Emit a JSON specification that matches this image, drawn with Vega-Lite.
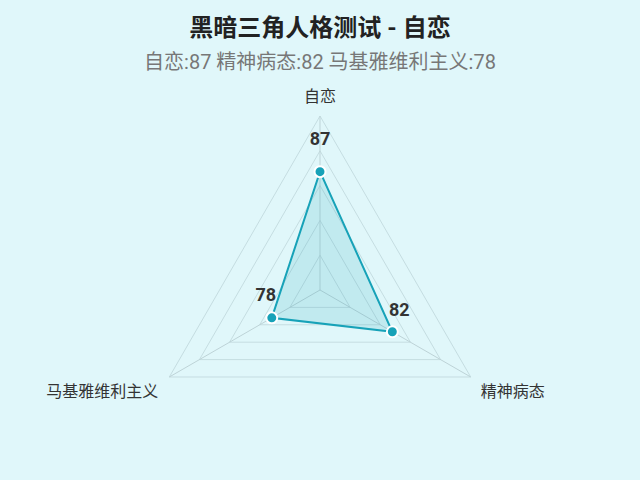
{
  "$schema": "https://vega.github.io/schema/vega-lite/v6.json",
  "width": 640,
  "height": 400,
  "autosize": {"type": "none"},
  "padding": {"top": 80, "left": 0, "right": 0, "bottom": 0},
  "background": "#e0f7fa",
  "config": {"view": {"stroke": null}, "font": "Roboto, Noto Sans CJK SC"},
  "title": {
    "text": "黑暗三角人格测试 - 自恋",
    "subtitle": "自恋:87 精神病态:82 马基雅维利主义:78",
    "anchor": "middle",
    "font": "Roboto, Noto Sans CJK SC",
    "fontSize": 24,
    "fontWeight": "bold",
    "color": "#222222",
    "subtitleFont": "Roboto, Noto Sans CJK SC",
    "subtitleFontSize": 20,
    "subtitleColor": "#777777",
    "subtitlePadding": 12,
    "offset": 7
  },
  "datasets": {
    "scores": [
      {"axis": "自恋", "order": 0, "value": 87},
      {"axis": "精神病态", "order": 1, "value": 82},
      {"axis": "马基雅维利主义", "order": 2, "value": 78}
    ],
    "grid": [
      {"level": 75, "order": 0}, {"level": 75, "order": 1}, {"level": 75, "order": 2},
      {"level": 80, "order": 0}, {"level": 80, "order": 1}, {"level": 80, "order": 2},
      {"level": 85, "order": 0}, {"level": 85, "order": 1}, {"level": 85, "order": 2},
      {"level": 90, "order": 0}, {"level": 90, "order": 1}, {"level": 90, "order": 2},
      {"level": 95, "order": 0}, {"level": 95, "order": 1}, {"level": 95, "order": 2}
    ]
  },
  "encoding": {
    "x": {"field": "px", "type": "quantitative", "scale": {"domain": [-1.8391, 1.8391], "nice": false, "zero": false}, "axis": null},
    "y": {"field": "py", "type": "quantitative", "scale": {"domain": [-1.092, 1.2069], "nice": false, "zero": false}, "axis": null}
  },
  "layer": [
    {
      "data": {"name": "grid"},
      "transform": [
        {"calculate": "(datum.level - 70) / 25", "as": "r"},
        {"calculate": "datum.order * 2 * PI / 3", "as": "a"},
        {"calculate": "datum.r * sin(datum.a)", "as": "px"},
        {"calculate": "datum.r * cos(datum.a)", "as": "py"}
      ],
      "mark": {"type": "line", "interpolate": "linear-closed", "stroke": "#c5dde1", "strokeWidth": 1},
      "encoding": {
        "detail": {"field": "level", "type": "nominal"},
        "order": {"field": "order", "type": "quantitative"}
      }
    },
    {
      "data": {"name": "scores"},
      "transform": [
        {"calculate": "datum.order * 2 * PI / 3", "as": "a"},
        {"calculate": "sin(datum.a)", "as": "px"},
        {"calculate": "cos(datum.a)", "as": "py"}
      ],
      "mark": {"type": "rule", "stroke": "#bdd3d7", "strokeWidth": 1},
      "encoding": {
        "x2": {"datum": 0},
        "y2": {"datum": 0}
      }
    },
    {
      "data": {"name": "scores"},
      "transform": [
        {"calculate": "(datum.value - 70) / 25", "as": "r"},
        {"calculate": "datum.order * 2 * PI / 3", "as": "a"},
        {"calculate": "datum.r * sin(datum.a)", "as": "px"},
        {"calculate": "datum.r * cos(datum.a)", "as": "py"}
      ],
      "mark": {"type": "line", "interpolate": "linear-closed", "stroke": "#17a2b8", "strokeWidth": 2, "fill": "#17a2b8", "fillOpacity": 0.15},
      "encoding": {
        "order": {"field": "order", "type": "quantitative"}
      }
    },
    {
      "data": {"name": "scores"},
      "transform": [
        {"calculate": "(datum.value - 70) / 25", "as": "r"},
        {"calculate": "datum.order * 2 * PI / 3", "as": "a"},
        {"calculate": "datum.r * sin(datum.a)", "as": "px"},
        {"calculate": "datum.r * cos(datum.a)", "as": "py"}
      ],
      "mark": {"type": "point", "filled": true, "fill": "#17a2b8", "stroke": "#ffffff", "strokeWidth": 2, "strokeOpacity": 1, "opacity": 1, "size": 120}
    },
    {
      "data": {"name": "scores"},
      "transform": [
        {"calculate": "(datum.value - 70) / 25", "as": "r"},
        {"calculate": "datum.order * 2 * PI / 3", "as": "a"},
        {"calculate": "datum.r * sin(datum.a)", "as": "px"},
        {"calculate": "datum.r * cos(datum.a)", "as": "py"},
        {"filter": "datum.order == 0"}
      ],
      "mark": {"type": "text", "fontSize": 18, "fontWeight": "bold", "color": "#333333", "baseline": "middle", "dy": -32},
      "encoding": {"text": {"field": "value", "type": "quantitative"}}
    },
    {
      "data": {"name": "scores"},
      "transform": [
        {"calculate": "(datum.value - 70) / 25", "as": "r"},
        {"calculate": "datum.order * 2 * PI / 3", "as": "a"},
        {"calculate": "datum.r * sin(datum.a)", "as": "px"},
        {"calculate": "datum.r * cos(datum.a)", "as": "py"},
        {"filter": "datum.order == 1"}
      ],
      "mark": {"type": "text", "fontSize": 18, "fontWeight": "bold", "color": "#333333", "baseline": "middle", "dx": 7, "dy": -21},
      "encoding": {"text": {"field": "value", "type": "quantitative"}}
    },
    {
      "data": {"name": "scores"},
      "transform": [
        {"calculate": "(datum.value - 70) / 25", "as": "r"},
        {"calculate": "datum.order * 2 * PI / 3", "as": "a"},
        {"calculate": "datum.r * sin(datum.a)", "as": "px"},
        {"calculate": "datum.r * cos(datum.a)", "as": "py"},
        {"filter": "datum.order == 2"}
      ],
      "mark": {"type": "text", "fontSize": 18, "fontWeight": "bold", "color": "#333333", "baseline": "middle", "dx": -6, "dy": -22},
      "encoding": {"text": {"field": "value", "type": "quantitative"}}
    },
    {
      "data": {"name": "scores"},
      "transform": [
        {"calculate": "datum.order * 2 * PI / 3", "as": "a"},
        {"calculate": "1.086 * sin(datum.a)", "as": "px"},
        {"calculate": "1.086 * cos(datum.a)", "as": "py"},
        {"filter": "datum.order == 0"}
      ],
      "mark": {"type": "text", "fontSize": 16, "color": "#333333", "align": "center", "baseline": "bottom", "dy": 4},
      "encoding": {"text": {"field": "axis", "type": "nominal"}}
    },
    {
      "data": {"name": "scores"},
      "transform": [
        {"calculate": "datum.order * 2 * PI / 3", "as": "a"},
        {"calculate": "1.086 * sin(datum.a)", "as": "px"},
        {"calculate": "1.086 * cos(datum.a)", "as": "py"},
        {"filter": "datum.order == 1"}
      ],
      "mark": {"type": "text", "fontSize": 16, "color": "#333333", "align": "left", "baseline": "top", "dx": -3},
      "encoding": {"text": {"field": "axis", "type": "nominal"}}
    },
    {
      "data": {"name": "scores"},
      "transform": [
        {"calculate": "datum.order * 2 * PI / 3", "as": "a"},
        {"calculate": "1.086 * sin(datum.a)", "as": "px"},
        {"calculate": "1.086 * cos(datum.a)", "as": "py"},
        {"filter": "datum.order == 2"}
      ],
      "mark": {"type": "text", "fontSize": 16, "color": "#333333", "align": "right", "baseline": "top", "dx": 2},
      "encoding": {"text": {"field": "axis", "type": "nominal"}}
    }
  ]
}
